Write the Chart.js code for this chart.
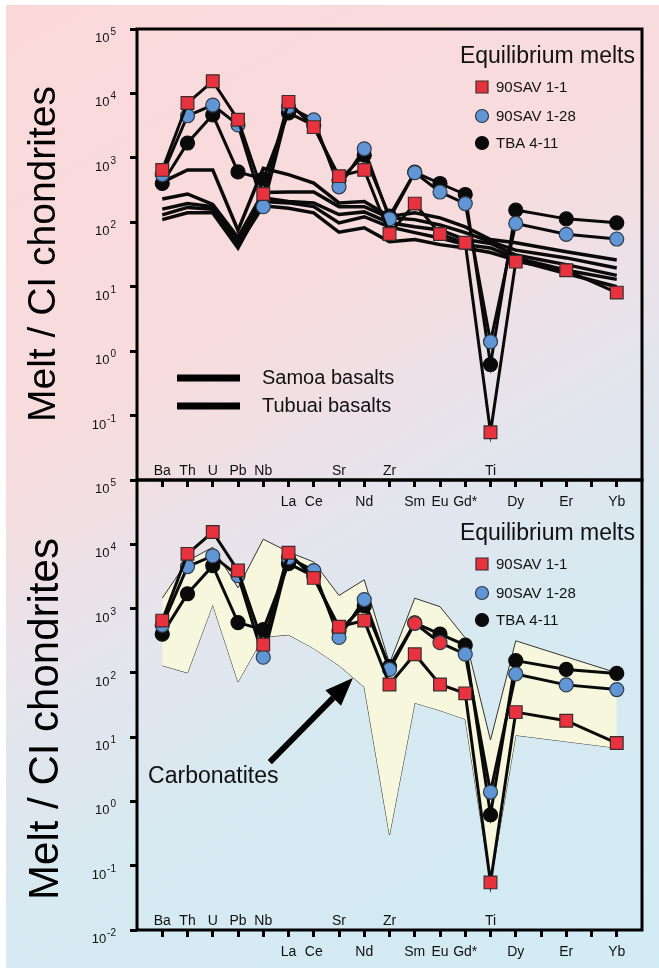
<!DOCTYPE html>
<html>
<head>
<meta charset="utf-8">
<script src="https://cdn.jsdelivr.net/npm/chart.js@4.4.1/dist/chart.umd.min.js"></script>
<style>
  html, body { margin: 0; padding: 0; background: #fff; }
  #page { position: relative; width: 659px; height: 977px; overflow: hidden; }
  #bg { position: absolute; left: 6px; top: 5px; width: 653px; height: 963px;
        background: linear-gradient(150deg, #fbd9da 0%, #f7dcde 35%, #e6e4ec 52%, #d7e9f1 68%, #d1ebf4 100%); }
  canvas { position: absolute; left: 0; top: 0; }
</style>
</head>
<body>
<div id="page">
  <div id="bg"></div>
  <canvas id="topChart" width="659" height="977"></canvas>
  <canvas id="bottomChart" width="659" height="977"></canvas>
</div>
<script>
// elements along the x axis (two unlabelled ticks = Ho, Tm)
const elements = ['Ba','Th','U','Pb','Nb','La','Ce','Sr','Nd','Zr','Sm','Eu','Gd*','Ti','Dy','','Er','','Yb'];
const yTicks = [1e-2, 1e-1, 1, 10, 100, 1e3, 1e4, 1e5];

// equilibrium melts (melt / CI chondrite)
const sav1_1  = [650, 7100, 15500, 3900, 275, 7400, 3000, 520, 650, 66, 195, 66, 48, 0.055, 24.5, null, 18, null, 8.1];
const sav1_28 = [550, 4500, 6600, 3250, 175, 6200, 3900, 355, 1380, 113, 590, 295, 195, 1.4, 96, null, 65, null, 55];
const tba4_11 = [400, 1700, 4650, 605, 470, 5000, 3200, 450, 1100, 125, 600, 400, 270, 0.62, 155, null, 113, null, 98];

// ocean island basalts (top panel)
const samoa1  = [420, 650, 650, 75, 690, 550, 405, 200, 210, 123, 141, 117, 85, 54, 48, null, 35, null, 26];
const samoa2  = [230, 275, 190, 58, 290, 295, 295, 175, 175, 118, 110, 91, 69, 50, 37, null, 28, null, 19.5];
const samoa3  = [160, 195, 175, 48, 240, 210, 200, 132, 145, 98, 85, 76, 54, 47, 31, null, 22, null, 15];
const tubuai1 = [110, 140, 140, 40, 210, 200, 175, 98, 122, 85, 69, 57, 45, 40, 28, null, 18, null, 13];
const tubuai2 = [130, 170, 160, 44, 180, 165, 140, 70, 82, 50, 54, 45, 40, 34, 26, null, 16, null, 10];

// carbonatite field (bottom panel)
const carbUpper = [1450, 5500, 9000, 2100, 12000, 7600, 5300, 1600, 2800, 140, 1450, 1070, 350, 9, 315, null, null, null, 100];
const carbLower = [130, 100, 1150, 72, 360, 390, 240, 130, 60, 0.3, 34, 26, 19, 0.054, 10.7, null, null, null, 6.8];

// annotation anchor (data space)
const carbLabel = { x: -0.56, y: 1.94 };
const arrowFrom = { x: 4.26, y: 4.1 };
const arrowTo = { x: 7.55, y: 83 };

const FONT = '"Liberation Sans", Arial, Helvetica, sans-serif';
const RED = '#e8333f', BLUE = '#6096d6', BLACK = '#0a0a0a', EDGE = '#3a2c2c';
const aboveAxis = ['Ba','Th','U','Pb','Nb','Sr','Zr','Ti'];

const pts = arr => arr.map((v, i) => ({ x: i, y: v }));

function meltDatasets(blueFill) {
  const common = { borderColor: BLACK, borderWidth: 3, spanGaps: true, fill: false, pointBorderWidth: 1.2 };
  return [
    Object.assign({ label: '90SAV 1-1', data: pts(sav1_1), pointStyle: 'rect', pointRadius: 9,
      pointBackgroundColor: RED, pointBorderColor: EDGE }, common),
    Object.assign({ label: '90SAV 1-28', data: pts(sav1_28), pointStyle: 'circle', pointRadius: 7,
      pointBackgroundColor: blueFill, pointBorderColor: '#2f3a4a' }, common),
    Object.assign({ label: 'TBA 4-11', data: pts(tba4_11), pointStyle: 'circle', pointRadius: 7,
      pointBackgroundColor: BLACK, pointBorderColor: BLACK }, common)
  ];
}

function basaltDataset(label, arr) {
  return { label, data: pts(arr), borderColor: BLACK, borderWidth: 3.5, pointRadius: 0, spanGaps: true, fill: false };
}

function drawPowers(chart, skipMin) {
  const ys = chart.scales.y, ctx = chart.ctx, right = chart.chartArea.left - 21;
  ctx.save();
  ctx.fillStyle = '#111';
  ctx.textAlign = 'left';
  ctx.textBaseline = 'alphabetic';
  ys.ticks.forEach(t => {
    if (skipMin && t.value === ys.min) return;
    const exp = String(Math.round(Math.log10(t.value)));
    const py = ys.getPixelForValue(t.value);
    ctx.font = '10px ' + FONT;
    const we = ctx.measureText(exp).width;
    ctx.font = '13px ' + FONT;
    const wb = ctx.measureText('10').width;
    const x0 = right - we - wb - 1;
    ctx.fillText('10', x0, py + 13);
    ctx.font = '10px ' + FONT;
    ctx.fillText(exp, x0 + wb + 1, py + 6);
  });
  ctx.restore();
}

function drawElementLabels(chart) {
  const xs = chart.scales.x, ctx = chart.ctx, base = chart.chartArea.bottom;
  ctx.save();
  ctx.font = '14px ' + FONT;
  ctx.fillStyle = '#111';
  ctx.textAlign = 'center';
  elements.forEach((el, i) => {
    if (!el) return;
    const px = xs.getPixelForValue(i);
    ctx.fillText(el, px, aboveAxis.includes(el) ? base - 5 : base + 26);
  });
  ctx.restore();
}

function drawYTitle(chart, size, baseX, centerY) {
  const ctx = chart.ctx;
  ctx.save();
  ctx.translate(baseX, centerY);
  ctx.rotate(-Math.PI / 2);
  ctx.font = size + 'px ' + FONT;
  ctx.textAlign = 'center';
  ctx.fillStyle = '#000';
  ctx.fillText('Melt / CI chondrites', 0, 0);
  ctx.restore();
}

function drawFrame(chart) {
  const { ctx, chartArea: a } = chart;
  ctx.save();
  ctx.strokeStyle = '#000';
  ctx.lineWidth = 3;
  ctx.strokeRect(a.left, a.top, a.right - a.left, a.bottom - a.top);
  ctx.restore();
}

function drawMeltLegend(chart, titleBase) {
  const a = chart.chartArea, ctx = chart.ctx;
  const colors = [RED, BLUE, BLACK];
  const rows = [24, 53, 80];
  ctx.save();
  ctx.fillStyle = '#111';
  ctx.font = '23px ' + FONT;
  ctx.textAlign = 'right';
  ctx.fillText('Equilibrium melts', a.right - 7, a.top + titleBase);
  const mx = a.right - 160, tx = a.right - 146;
  chart.data.datasets.slice(0, 3).forEach((ds, k) => {
    const y = a.top + titleBase + rows[k];
    ctx.lineWidth = 1.2;
    ctx.strokeStyle = ds.pointBorderColor;
    ctx.fillStyle = colors[k];
    ctx.beginPath();
    if (ds.pointStyle === 'rect') ctx.rect(mx - 6, y - 6, 12, 12);
    else ctx.arc(mx, y, 6.5, 0, Math.PI * 2);
    ctx.fill();
    ctx.stroke();
    ctx.fillStyle = '#111';
    ctx.font = '15px ' + FONT;
    ctx.textAlign = 'left';
    ctx.textBaseline = 'middle';
    ctx.fillText(ds.label, tx, y + 1);
    ctx.textBaseline = 'alphabetic';
  });
  ctx.restore();
}

function drawBasaltLegend(chart) {
  const a = chart.chartArea, ctx = chart.ctx;
  ctx.save();
  ctx.strokeStyle = '#000';
  ctx.lineWidth = 7;
  ctx.fillStyle = '#111';
  ctx.font = '20px ' + FONT;
  ctx.textBaseline = 'middle';
  [['Samoa basalts', 349], ['Tubuai basalts', 377]].forEach(([txt, dy]) => {
    const y = a.top + dy;
    ctx.beginPath();
    ctx.moveTo(a.left + 40, y);
    ctx.lineTo(a.left + 103, y);
    ctx.stroke();
    ctx.fillText(txt, a.left + 125, y);
  });
  ctx.restore();
}

function drawCarbonatiteNote(chart) {
  const xs = chart.scales.x, ys = chart.scales.y, ctx = chart.ctx;
  ctx.save();
  ctx.fillStyle = '#111';
  ctx.font = '23px ' + FONT;
  ctx.fillText('Carbonatites', xs.getPixelForValue(carbLabel.x), ys.getPixelForValue(carbLabel.y));
  const x1 = xs.getPixelForValue(arrowFrom.x), y1 = ys.getPixelForValue(arrowFrom.y);
  const x2 = xs.getPixelForValue(arrowTo.x), y2 = ys.getPixelForValue(arrowTo.y);
  const ang = Math.atan2(y2 - y1, x2 - x1), head = 28, half = 11;
  const bx = x2 - head * Math.cos(ang), by = y2 - head * Math.sin(ang);
  ctx.strokeStyle = '#000';
  ctx.fillStyle = '#000';
  ctx.lineWidth = 6;
  ctx.beginPath();
  ctx.moveTo(x1, y1);
  ctx.lineTo(bx, by);
  ctx.stroke();
  ctx.beginPath();
  ctx.moveTo(x2, y2);
  ctx.lineTo(bx + half * Math.sin(ang), by - half * Math.cos(ang));
  ctx.lineTo(bx - half * Math.sin(ang), by + half * Math.cos(ang));
  ctx.closePath();
  ctx.fill();
  ctx.restore();
}

function baseOptions(padding) {
  const grid = { drawOnChartArea: false, drawTicks: true, tickLength: 7, lineWidth: 3, color: '#000' };
  return {
    responsive: false,
    animation: false,
    layout: { padding },
    elements: { line: { tension: 0 } },
    plugins: { legend: { display: false }, tooltip: { enabled: false } },
    scales: {
      x: {
        type: 'linear', min: -1, max: elements.length,
        afterBuildTicks: s => { s.ticks = elements.map((_, i) => ({ value: i })); },
        afterFit: s => { s.height = 0; },
        border: { display: false }, grid, ticks: { display: false }
      },
      y: {
        type: 'logarithmic', min: yTicks[0], max: yTicks[yTicks.length - 1],
        afterBuildTicks: s => { s.ticks = yTicks.map(v => ({ value: v })); },
        afterFit: s => { s.width = 0; },
        border: { display: false }, grid, ticks: { display: false }
      }
    }
  };
}

Chart.defaults.font.family = FONT;

new Chart(document.getElementById('topChart'), {
  type: 'line',
  data: {
    datasets: meltDatasets(BLUE).concat([
      basaltDataset('Samoa basalts', samoa1),
      basaltDataset('Samoa basalts', samoa2),
      basaltDataset('Samoa basalts', samoa3),
      basaltDataset('Tubuai basalts', tubuai1),
      basaltDataset('Tubuai basalts', tubuai2)
    ])
  },
  options: baseOptions({ left: 137, right: 17, top: 29, bottom: 497 }),
  plugins: [{
    id: 'topDecor',
    afterDatasetsDraw(chart) {
      drawFrame(chart);
      drawPowers(chart, true);
      drawElementLabels(chart);
      drawYTitle(chart, 39, 55, 254);
      drawMeltLegend(chart, 34);
      drawBasaltLegend(chart);
    }
  }]
});

// in the lower panel the 90SAV 1-28 symbols at Sm and Eu are printed red
const bottomBlueFill = elements.map(e => (e === 'Sm' || e === 'Eu') ? RED : BLUE);

new Chart(document.getElementById('bottomChart'), {
  type: 'line',
  data: {
    datasets: meltDatasets(bottomBlueFill).concat([
      { label: 'Carbonatites', data: pts(carbUpper), borderColor: '#333', borderWidth: 1, pointRadius: 0,
        spanGaps: true, fill: '+1', backgroundColor: '#f6f7dc' },
      { label: 'Carbonatites low', data: pts(carbLower), borderColor: '#333', borderWidth: 1, pointRadius: 0,
        spanGaps: true, fill: false }
    ])
  },
  options: baseOptions({ left: 137, right: 17, top: 480, bottom: 47 }),
  plugins: [{
    id: 'bottomDecor',
    afterDatasetsDraw(chart) {
      drawFrame(chart);
      drawPowers(chart, false);
      drawElementLabels(chart);
      drawYTitle(chart, 42, 58, 719);
      drawMeltLegend(chart, 60);
      drawCarbonatiteNote(chart);
    }
  }]
});
</script>
</body>
</html>
